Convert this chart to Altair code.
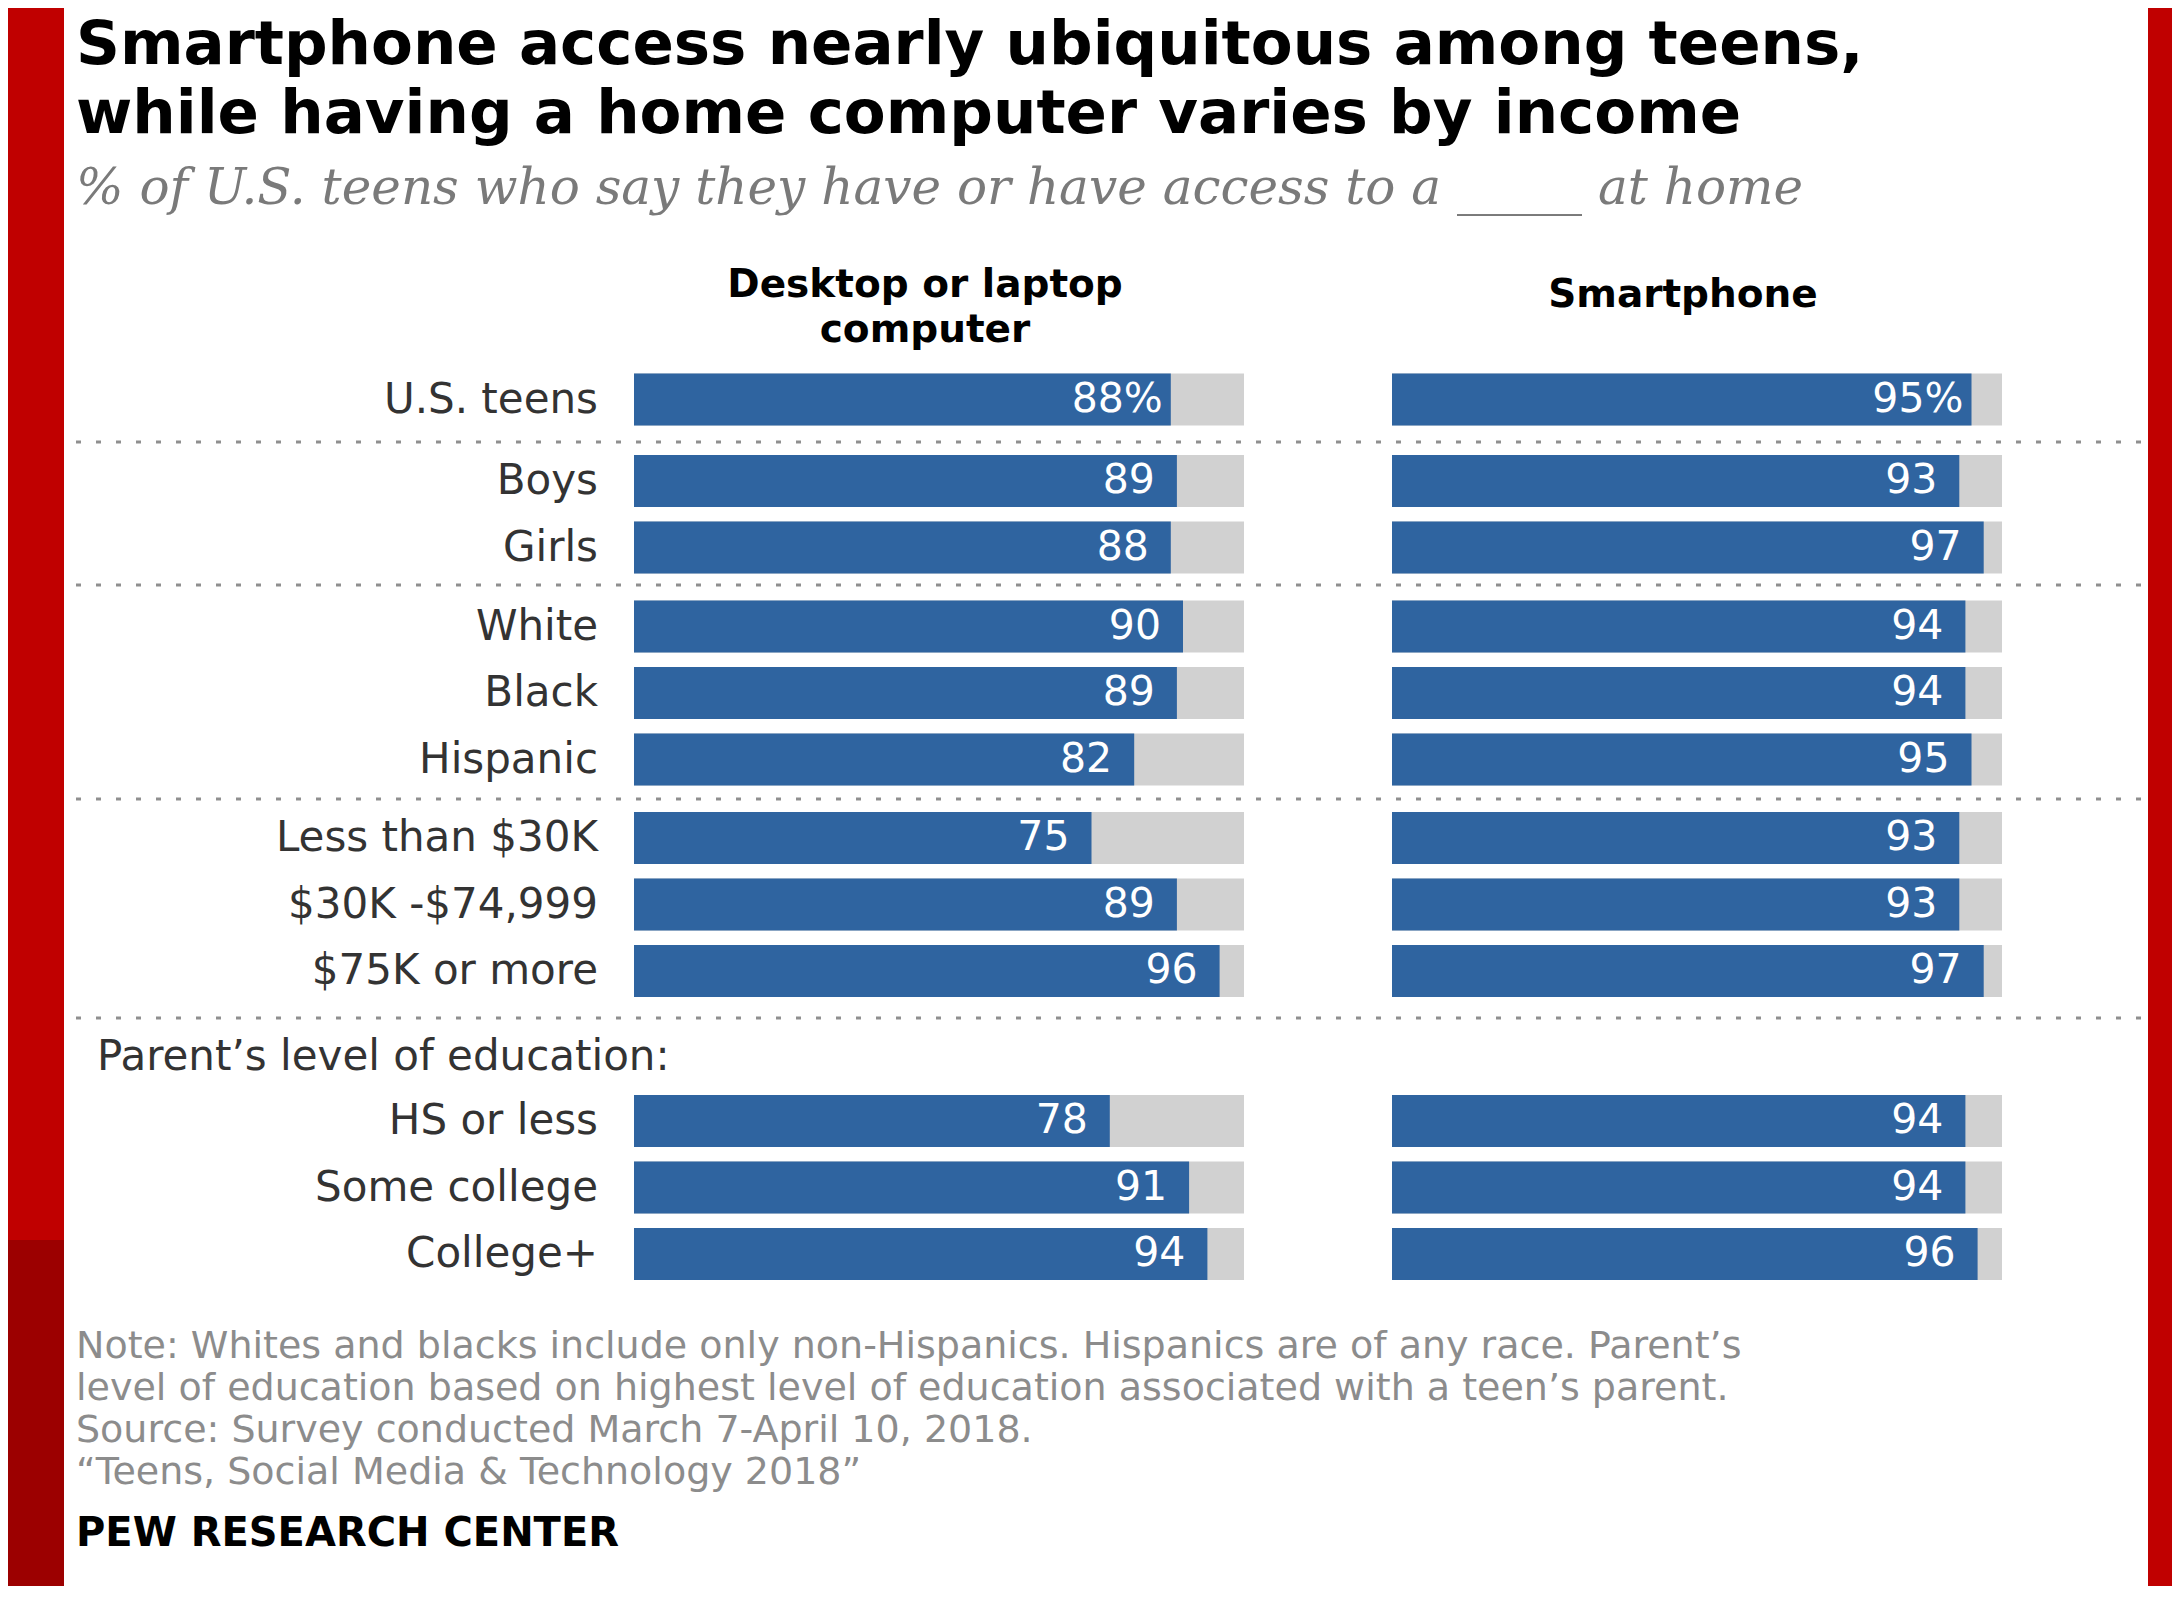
import altair as alt
import pandas as pd

# ---------------- data ----------------
group_rows = [
    ["U.S. teens"],
    ["Boys", "Girls"],
    ["White", "Black", "Hispanic"],
    ["Less than $30K", "$30K -$74,999", "$75K or more"],
    ["HS or less", "Some college", "College+"],
]
computer = [88, 89, 88, 90, 89, 82, 75, 89, 96, 78, 91, 94]
smartphone = [95, 93, 97, 94, 94, 95, 93, 93, 97, 94, 94, 96]
column_titles = [["Desktop or laptop", "computer"], ["Smartphone"]]

title_lines = [
    "Smartphone access nearly ubiquitous among teens,",
    "while having a home computer varies by income",
]
subtitle = "% of U.S. teens who say they have or have access to a _____ at home"
edu_label = "Parent\u2019s level of education:"
note_lines = [
    "Note: Whites and blacks include only non-Hispanics. Hispanics are of any race. Parent\u2019s",
    "level of education based on highest level of education associated with a teen\u2019s parent.",
    "Source: Survey conducted March 7-April 10, 2018.",
    "\u201cTeens, Social Media & Technology 2018\u201d",
]
brand = "PEW RESEARCH CENTER"

# ---------------- layout / style ----------------
W, H = 2164, 1578
RED = "#c00000"
DARK_RED = "#9c0000"
BLUE = "#2f64a0"
GREY_BG = "#d1d1d1"
FONT = "DejaVu Sans"

STEP = 66.5
BAR_H = 52
P_IN = 1 - BAR_H / STEP
first_centers = [391.5, 473, 618.5, 830, 1113]
col_ranges = [[626, 1236], [1384, 1994]]
separators = [434, 577, 791, 1010]

one = pd.DataFrame({"a": [0]})


def txt(text, x, y, size, color="#000000", weight="normal", align="left",
        baseline="alphabetic", font=FONT, style="normal"):
    return alt.Chart(one).mark_text(
        text=text, align=align, baseline=baseline, fontSize=size, font=font,
        fontWeight=weight, fontStyle=style, color=color,
    ).encode(x=alt.value(x), y=alt.value(y))


layers = []

# white panel and dark red accent
layers.append(alt.Chart(one).mark_rect(color="white").encode(
    x=alt.value(56), x2=alt.value(2140), y=alt.value(0), y2=alt.value(H)))
layers.append(alt.Chart(one).mark_rect(color=DARK_RED).encode(
    x=alt.value(0), x2=alt.value(56), y=alt.value(1232), y2=alt.value(H)))

# title & subtitle
layers.append(txt(title_lines[0], 68, 56, 61, weight="bold"))
layers.append(txt(title_lines[1], 68, 125, 61, weight="bold"))
layers.append(txt(subtitle, 68, 196, 50, color="#7a7a7a", font="DejaVu Serif", style="italic"))

# column headers
layers.append(txt(column_titles[0][0], 917, 277, 39, weight="bold", align="center", baseline="middle"))
layers.append(txt(column_titles[0][1], 917, 322, 39, weight="bold", align="center", baseline="middle"))
layers.append(txt(column_titles[1][0], 1675, 287, 39, weight="bold", align="center", baseline="middle"))

# dotted separators
for sy in separators:
    layers.append(alt.Chart(one).mark_rule(color="#8f8f8f", strokeDash=[5, 15], strokeWidth=3).encode(
        x=alt.value(68), x2=alt.value(2133), y=alt.value(sy)))

# education label
layers.append(txt(edu_label, 89, 1049, 42, color="#333333", baseline="middle"))

values = [computer, smartphone]
i0 = 0
for g, rows in enumerate(group_rows):
    n = len(rows)
    top = first_centers[g] - STEP / 2
    yscale = alt.Scale(domain=rows, range=[top, top + n * STEP],
                       paddingInner=P_IN, paddingOuter=P_IN / 2)
    for c in range(2):
        vals = values[c][i0:i0 + n]
        df = pd.DataFrame({
            "label": rows,
            "value": vals,
            "lbl": [f"{v}%" if g == 0 else str(v) for v in vals],
        })
        xs = alt.Scale(domain=[0, 100], range=col_ranges[c])
        base = alt.Chart(df).encode(y=alt.Y("label:N", scale=yscale, axis=None))
        bg = base.transform_calculate(full="100").mark_bar(color=GREY_BG).encode(
            x=alt.X("full:Q", scale=xs, axis=None))
        bar = base.mark_bar(color=BLUE).encode(x=alt.X("value:Q", scale=xs, axis=None))
        lab = base.mark_text(
            align="right", baseline="middle", dx=-8 if g == 0 else -22,
            color="white", font=FONT, fontSize=41,
        ).encode(x=alt.X("value:Q", scale=xs, axis=None), text="lbl:N")
        sub = [bg, bar, lab]
        if c == 0:
            rowlab = base.mark_text(
                align="right", baseline="middle", color="#333333", font=FONT, fontSize=42,
            ).encode(x=alt.value(590), text="label:N")
            sub.append(rowlab)
        layers.append(alt.layer(*sub))
    i0 += n

# notes and brand
note_y = [1350, 1392, 1434, 1476]
for line, ny in zip(note_lines, note_y):
    layers.append(txt(line, 68, ny, 38, color="#8c8c8c"))
layers.append(txt(brand, 68, 1538, 40, weight="bold"))

chart = alt.layer(*layers).resolve_scale(x="independent", y="independent").properties(
    width=W, height=H, padding=0,
    autosize=alt.AutoSizeParams(type="none"),
    background=RED,
).configure_view(stroke=None)

chart.save("out.html", embed_options={"renderer": "svg", "actions": False})
